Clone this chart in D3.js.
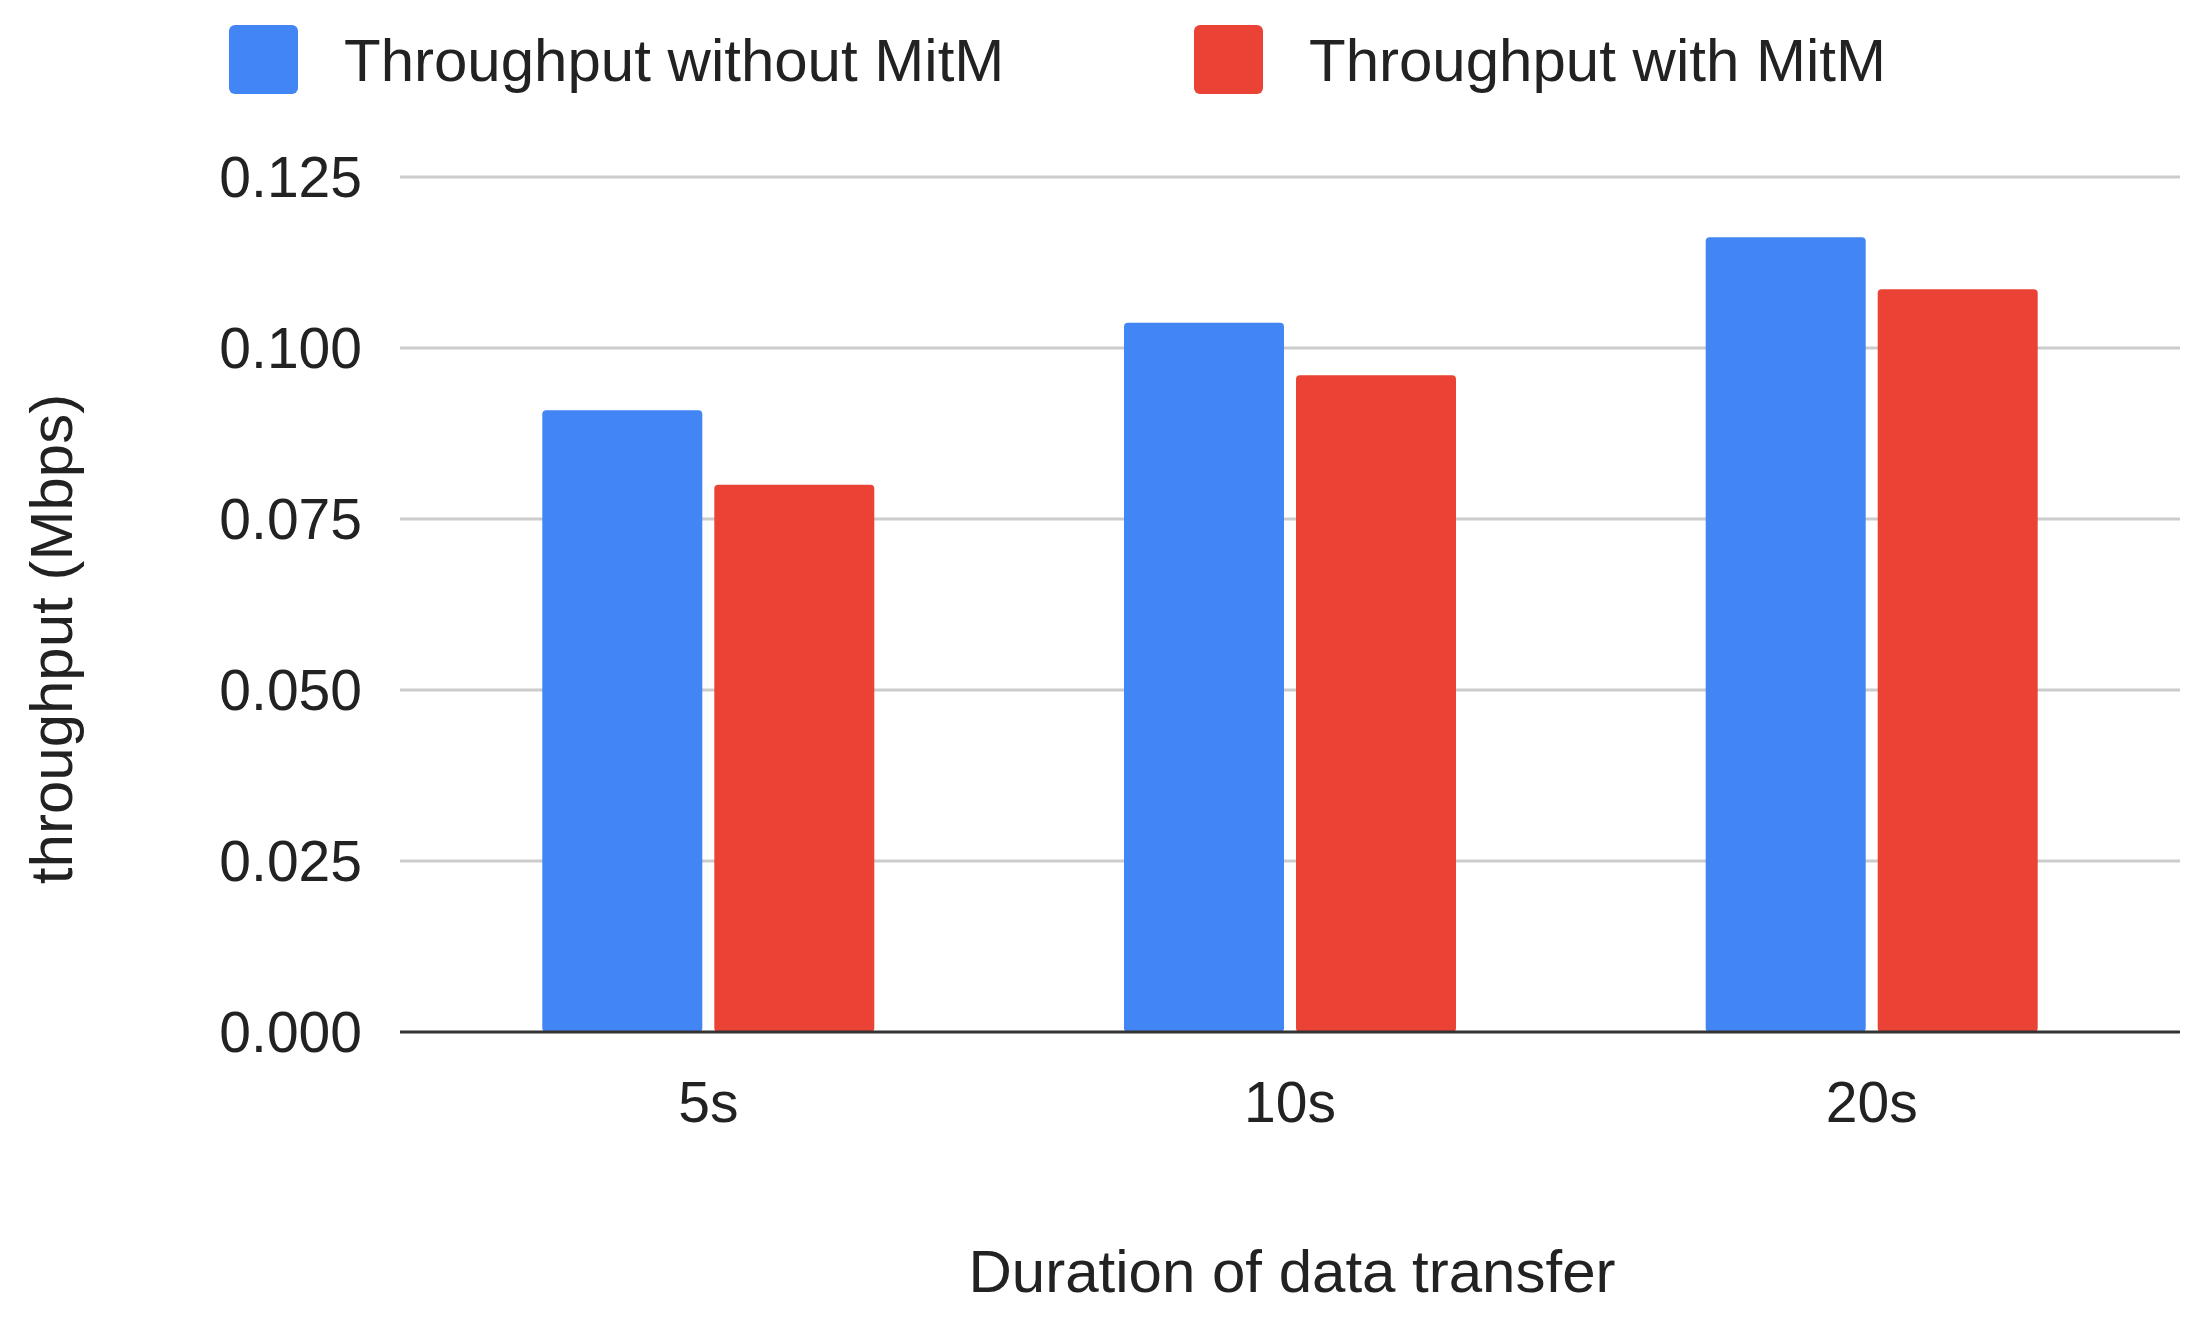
<!DOCTYPE html>
<html><head><meta charset="utf-8">
<script src="https://cdn.jsdelivr.net/npm/d3@7"></script>
<style>body{margin:0;background:#fff}text{font-family:Arial,"Liberation Sans",sans-serif;fill:#222}</style>
</head><body>
<svg width="2191" height="1318"></svg>
<script>
const categories = ["5s", "10s", "20s"];
const seriesNames = ["Throughput without MitM", "Throughput with MitM"];
const withoutMitm = [0.0909, 0.1037, 0.1162];
const withMitm = [0.0800, 0.0960, 0.1086];
const yTicks = [0, 0.025, 0.05, 0.075, 0.1, 0.125];
const colors = ["#4285f4", "#ea4335"];

const svg = d3.select("svg");
const plotLeft = 400, plotRight = 2180, plotTop = 177, plotBottom = 1032;

const x = d3.scaleBand().domain(categories).range([plotLeft, plotRight]).paddingInner(0).paddingOuter(0.03);
const y = d3.scaleLinear().domain([0, 0.125]).range([plotBottom, plotTop]);

svg.append("g").selectAll("line").data(yTicks.slice(1)).join("line")
  .attr("x1", plotLeft).attr("x2", plotRight)
  .attr("y1", d => y(d)).attr("y2", d => y(d))
  .attr("stroke", "#cccccc").attr("stroke-width", 3);

svg.append("g").selectAll("text").data(yTicks).join("text")
  .attr("x", 362).attr("y", d => y(d)).attr("dy", "0.35em")
  .attr("text-anchor", "end").attr("font-size", 57)
  .text(d => d3.format(".3f")(d));

const barW = 160, gap = 12;
const series = [withoutMitm, withMitm];
series.forEach((vals, s) => {
  svg.append("g").selectAll("rect").data(vals).join("rect")
    .attr("x", (d, i) => x(categories[i]) + x.bandwidth() / 2 + (s === 0 ? -barW - gap / 2 : gap / 2))
    .attr("y", d => y(d)).attr("width", barW).attr("height", d => y(0) - y(d))
    .attr("rx", 4).attr("fill", colors[s]);
});

svg.append("line").attr("x1", plotLeft).attr("x2", plotRight).attr("y1", plotBottom).attr("y2", plotBottom)
  .attr("stroke", "#333").attr("stroke-width", 3);

svg.append("g").selectAll("text").data(categories).join("text")
  .attr("x", d => x(d) + x.bandwidth() / 2).attr("y", 1122)
  .attr("text-anchor", "middle").attr("font-size", 57).text(d => d);

svg.append("text").attr("x", 1292).attr("y", 1292).attr("text-anchor", "middle")
  .attr("font-size", 60).text("Duration of data transfer");

svg.append("text").attr("transform", "translate(72,639) rotate(-90)")
  .attr("text-anchor", "middle").attr("font-size", 60).text("throughput (Mbps)");

const legX = [229, 1194];
seriesNames.forEach((n, i) => {
  svg.append("rect").attr("x", legX[i]).attr("y", 25).attr("width", 69).attr("height", 69)
    .attr("rx", 6).attr("fill", colors[i]);
  svg.append("text").attr("x", legX[i] + 115).attr("y", 60).attr("dy", "0.35em")
    .attr("font-size", 60).text(n);
});
</script>
</body></html>
